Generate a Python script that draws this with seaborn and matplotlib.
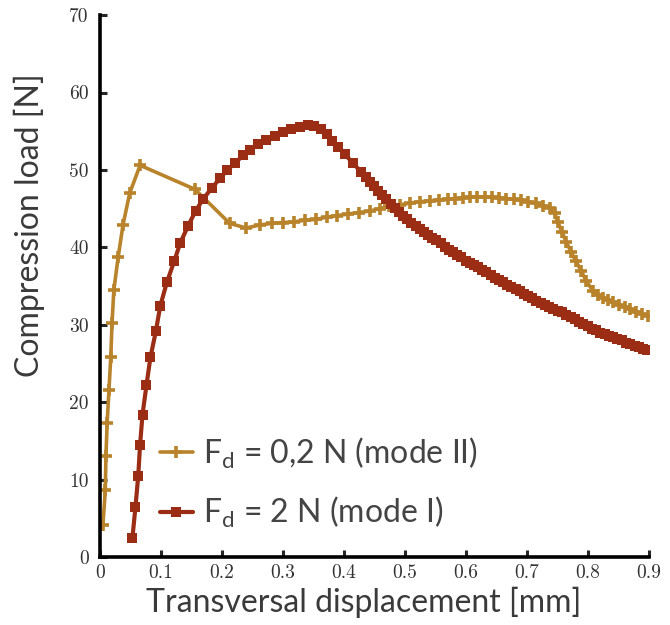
"""Compression load vs transversal displacement for two Fd levels."""
import matplotlib

matplotlib.use("Agg")
import matplotlib.pyplot as plt  # noqa: E402
import pandas as pd  # noqa: E402
import seaborn as sns  # noqa: E402

# --- data ------------------------------------------------------------------ #
x_mode2 = [0.005, 0.009, 0.010, 0.012, 0.015, 0.018, 0.020, 0.023, 0.030, 0.038,
           0.049, 0.066, 0.156, 0.213, 0.240, 0.263, 0.282, 0.300, 0.319, 0.336,
           0.354, 0.372, 0.389, 0.407, 0.425, 0.443, 0.459, 0.475, 0.492, 0.508,
           0.525, 0.541, 0.557, 0.571, 0.583, 0.595, 0.607, 0.619, 0.631, 0.643,
           0.655, 0.667, 0.679, 0.691, 0.703, 0.715, 0.727, 0.738, 0.746, 0.751,
           0.758, 0.765, 0.773, 0.781, 0.790, 0.798, 0.809, 0.817, 0.825, 0.833,
           0.841, 0.851, 0.861, 0.870, 0.880, 0.890, 0.899]
y_mode2 = [4.1, 8.6, 13.0, 17.3, 21.6, 25.9, 30.2, 34.5, 38.7, 42.9,
           47.0, 50.6, 47.5, 43.1, 42.5, 42.9, 43.1, 43.2, 43.3, 43.5,
           43.6, 43.9, 44.1, 44.3, 44.5, 44.7, 45.0, 45.3, 45.5, 45.7,
           45.9, 46.0, 46.1, 46.2, 46.3, 46.4, 46.5, 46.5, 46.5, 46.5,
           46.4, 46.3, 46.2, 46.1, 45.9, 45.7, 45.4, 45.1, 44.5, 43.3,
           42.0, 40.7, 39.4, 38.2, 36.9, 35.6, 34.4, 33.9, 33.5, 33.2,
           32.9, 32.6, 32.3, 32.0, 31.7, 31.4, 31.1]

x_mode1 = [0.0535, 0.0585, 0.063, 0.066, 0.070, 0.0765, 0.083, 0.092, 0.099, 0.110,
           0.122, 0.132, 0.145, 0.157, 0.170, 0.184, 0.197, 0.209, 0.222, 0.235,
           0.247, 0.260, 0.273, 0.287, 0.300, 0.314, 0.328, 0.341, 0.352, 0.362,
           0.372, 0.381, 0.390, 0.402, 0.415, 0.429, 0.436, 0.443, 0.450, 0.456,
           0.463, 0.470, 0.477, 0.484, 0.490, 0.497, 0.504, 0.511, 0.518, 0.525,
           0.531, 0.538, 0.545, 0.552, 0.559, 0.566, 0.572, 0.579, 0.586, 0.593,
           0.600, 0.607, 0.613, 0.620, 0.627, 0.634, 0.641, 0.648, 0.654, 0.661,
           0.668, 0.675, 0.682, 0.689, 0.695, 0.702, 0.709, 0.716, 0.723, 0.730,
           0.737, 0.744, 0.751, 0.758, 0.765, 0.772, 0.779, 0.786, 0.793, 0.800,
           0.807, 0.814, 0.821, 0.828, 0.835, 0.842, 0.849, 0.856, 0.863, 0.870,
           0.877, 0.884, 0.891, 0.898]
y_mode1 = [2.5, 6.5, 10.5, 14.5, 18.4, 22.2, 25.8, 29.2, 32.4, 35.5,
           38.2, 40.6, 42.8, 44.7, 46.3, 47.7, 48.9, 50.0, 50.9, 51.9,
           52.6, 53.3, 53.9, 54.4, 54.9, 55.3, 55.6, 55.8, 55.7, 55.3,
           54.6, 53.8, 53.0, 52.0, 50.9, 49.7, 49.1, 48.5, 47.9, 47.3,
           46.7, 46.2, 45.6, 45.1, 44.6, 44.1, 43.6, 43.2, 42.8, 42.4,
           42.0, 41.6, 41.2, 40.9, 40.5, 40.1, 39.7, 39.4, 39.0, 38.7,
           38.3, 38.0, 37.7, 37.4, 37.1, 36.8, 36.4, 36.1, 35.8, 35.5,
           35.2, 34.9, 34.6, 34.3, 34.0, 33.7, 33.4, 33.1, 32.8, 32.6,
           32.3, 32.1, 31.8, 31.6, 31.3, 31.0, 30.7, 30.4, 30.1, 29.8,
           29.5, 29.3, 29.0, 28.8, 28.6, 28.4, 28.2, 28.0, 27.7, 27.5,
           27.3, 27.1, 26.9, 26.7]

label_mode2 = r"F$_\mathregular{d}$ = 0,2 N (mode II)"
label_mode1 = r"F$_\mathregular{d}$ = 2 N (mode I)"

x_ticks = [0, 0.1, 0.2, 0.3, 0.4, 0.5, 0.6, 0.7, 0.8, 0.9]
x_ticklabels = ["0", "0.1", "0.2", "0.3", "0.4", "0.5", "0.6", "0.7", "0.8", "0.9"]
y_ticks = [0, 10, 20, 30, 40, 50, 60, 70]

GOLD = "#B8832B"
RUST = "#9B2D14"

# --- figure ----------------------------------------------------------------- #
sns.set_style("ticks")
plt.rcParams["font.family"] = ["Lato", "DejaVu Sans"]
plt.rcParams["mathtext.fontset"] = "custom"
plt.rcParams["mathtext.rm"] = "Lato"

fig = plt.figure(figsize=(6.7, 6.25), dpi=100)
ax = fig.add_axes([0.149, 0.1088, 0.819, 0.867])

df2 = pd.DataFrame({"x": x_mode2, "y": y_mode2})
df1 = pd.DataFrame({"x": x_mode1, "y": y_mode1})

sns.lineplot(data=df2, x="x", y="y", ax=ax, sort=False, estimator=None,
             color=GOLD, lw=2.6, marker="+", markersize=9, mew=2.6,
             mec=GOLD, label=label_mode2)
sns.lineplot(data=df1, x="x", y="y", ax=ax, sort=False, estimator=None,
             color=RUST, lw=3.0, marker="s", markersize=7.2, mew=0,
             mfc=RUST, label=label_mode1)

ax.set_xlim(0, 0.9)
ax.set_ylim(0, 70)
ax.set_xticks(x_ticks)
ax.set_xticklabels(x_ticklabels)
ax.set_yticks(y_ticks)
for lab in ax.get_xticklabels() + ax.get_yticklabels():
    lab.set_fontfamily("cmr10")
    lab.set_fontsize(14)
    lab.set_color("#333333")
ax.tick_params(direction="in", length=5, width=2.2, pad=5)
ax.tick_params(axis="y", pad=8)

for side in ("left", "bottom"):
    ax.spines[side].set_linewidth(2.6)
    ax.spines[side].set_color("black")
sns.despine(ax=ax)

ax.set_xlabel("Transversal displacement [mm]", fontsize=23, color="#3a3a3a")
ax.set_ylabel("Compression load [N]", fontsize=23, color="#3a3a3a")
ax.xaxis.set_label_coords(0.481, -0.055)
ax.yaxis.set_label_coords(-0.10, 0.613)

leg = ax.legend(loc="center left", bbox_to_anchor=(0.109, 0.137), frameon=False,
                fontsize=23, labelspacing=0.76, handlelength=1.05, handletextpad=0.3,
                borderpad=0, borderaxespad=0)
for t in leg.get_texts():
    t.set_color("#444444")

fig.savefig("out.png", dpi=100)
